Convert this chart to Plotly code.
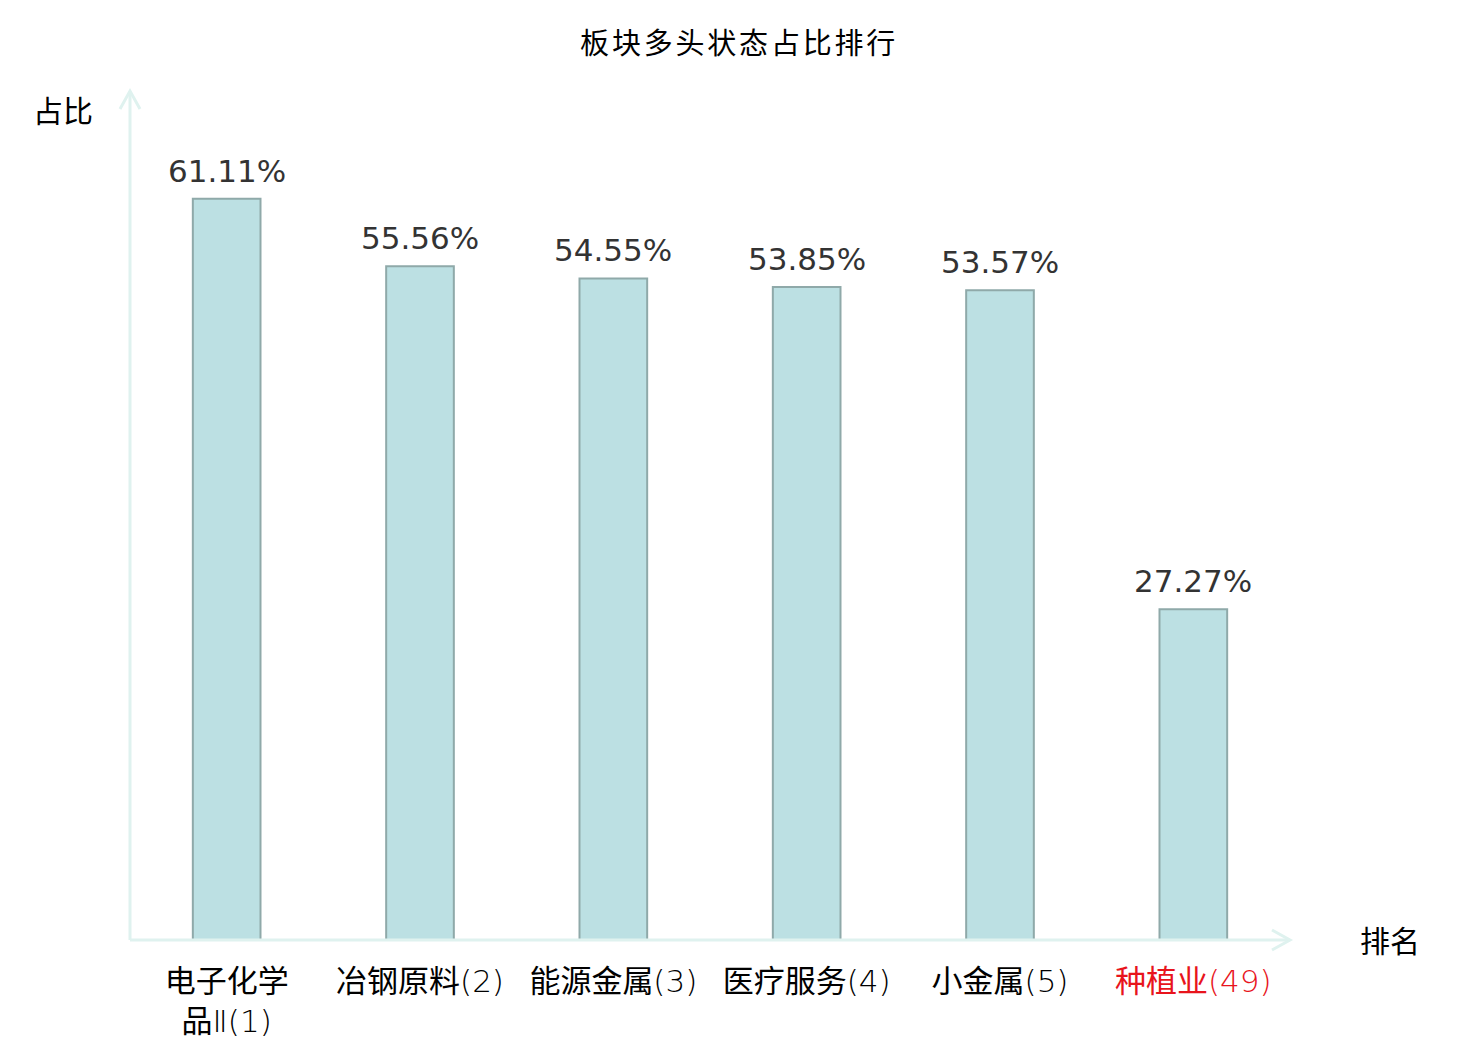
import plotly.graph_objects as go

# 板块多头状态占比
sectors = ["电子化学<br>品", "冶钢原料", "能源金属", "医疗服务", "小金属", "种植业"]
suffixes = ["Ⅱ", "", "", "", "", ""]
ranks = [1, 2, 3, 4, 5, 49]
ratios = [61.11, 55.56, 54.55, 53.85, 53.57, 27.27]

FONT = "DejaVu Sans, Noto Sans CJK SC"
AXIS_COLOR = "#dff2ef"

ticktext = []
for name, suf, r in zip(sectors, suffixes, ranks):
    label = f'{name}<span style="font-weight:200">{suf}({r})</span>'
    if r > 5:
        label = f'<span style="color:#e8141c">{label}</span>'
    ticktext.append(label)

fig = go.Figure(go.Bar(
    x=list(range(len(sectors))),
    y=ratios,
    width=0.35,
    marker=dict(color="#bce0e3", line=dict(color="#8fa9a9", width=2)),
    hoverinfo="skip",
))

# value labels above the bars
for i, v in enumerate(ratios):
    fig.add_annotation(x=i, y=v, text=f"{v:.2f}%", showarrow=False,
                       xanchor="center", yanchor="bottom", yshift=8,
                       font=dict(size=31, color="#333333", family=FONT))

fig.update_layout(
    width=1480, height=1040,
    margin=dict(l=122, r=198, t=83, b=108),
    plot_bgcolor="white", paper_bgcolor="white",
    showlegend=False,
    font=dict(family=FONT, color="black"),
    title=dict(text='<span style="letter-spacing:2.8px">板块多头状态占比排行</span>',
               x=0.494, xref="container", xanchor="center", y=0.966, yanchor="middle",
               font=dict(size=29, color="black", family=FONT)),
)
fig.update_xaxes(range=[-0.5, 5.5], tickvals=list(range(len(sectors))), ticktext=ticktext,
                 tickfont=dict(size=31, color="black"), showgrid=False, automargin=False,
                 zeroline=False, showline=False, ticks="", ticklabelstandoff=20)
fig.update_yaxes(range=[0, 70], showticklabels=False, showgrid=False, zeroline=False,
                 showline=False, ticks="", automargin=False)

# axis lines with open arrowheads
line = dict(color=AXIS_COLOR, width=3)
fig.add_shape(type="line", xref="paper", yref="paper", x0=0, x1=0, y0=0, y1=1, line=line)
fig.add_shape(type="line", xref="paper", yref="paper", x0=0, x1=1, y0=0, y1=0, line=line)
fig.add_shape(type="path", xref="paper", yref="paper", xsizemode="pixel", ysizemode="pixel",
              xanchor=0, yanchor=1, path="M -10,-18 L 0,0 L 10,-18", line=line)
fig.add_shape(type="path", xref="paper", yref="paper", xsizemode="pixel", ysizemode="pixel",
              xanchor=1, yanchor=0, path="M -18,10 L 0,0 L -18,-10", line=line)

fig.add_annotation(text="占比", xref="paper", yref="paper", x=-0.058, y=0.976,
                   xanchor="center", yanchor="middle", showarrow=False,
                   font=dict(size=30, color="black"))
fig.add_annotation(text="排名", xref="paper", yref="paper", x=1.086, y=-0.002,
                   xanchor="center", yanchor="middle", showarrow=False,
                   font=dict(size=30, color="black"))

fig.write_html("out.html")
